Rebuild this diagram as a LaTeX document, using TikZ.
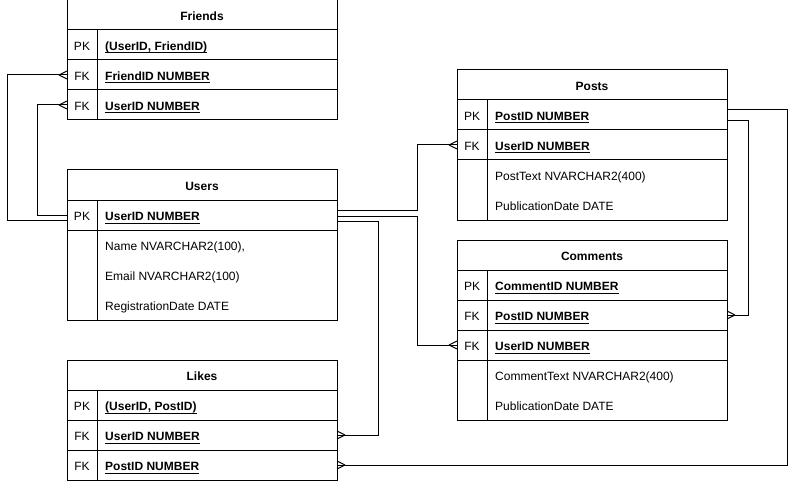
\documentclass[tikz,border=0pt]{standalone}
\usepackage{fontspec}
\setmainfont{Liberation Sans}
\usetikzlibrary{calc}
\newcommand\ulx[1]{\setbox0\hbox{#1}\rlap{\rule[-2.8pt]{\wd0}{0.8pt}}\box0}
\tikzset{
  cell/.style={draw, line width=1pt, minimum width=270pt, minimum height=30pt, anchor=north west, inner sep=0pt, outer sep=0pt},
  titletext/.style={font=\fontsize{12}{14}\selectfont\bfseries, inner sep=0pt, text height=12pt, text depth=1pt},
  keytext/.style={font=\fontsize{12}{14}\selectfont, inner sep=0pt, text height=12pt, text depth=1pt},
  fieldtext/.style={font=\fontsize{12}{14}\selectfont, anchor=west, inner sep=0pt, text height=12pt, text depth=1pt},
  conn/.style={draw, line width=1pt},
}
\newcommand\erTitle[4]{%
  \node[cell] (#1) at (#2,#3) {};
  \node[titletext] (#1-t) at (#1.center) {#4};}
\newcommand\erKey[5]{%
  \node[cell] (#1) at (#2,#3) {};
  \draw[line width=1pt] ($(#1.north west)+(30,0)$) -- ($(#1.south west)+(30,0)$);
  \node[keytext] (#1-k) at ($(#1.west)+(15,0)$) {#4};
  \node[fieldtext] (#1-t) at ($(#1.west)+(38,0)$) {\bfseries\ulx{#5}};}
\newcommand\crowL[1]{\draw[line width=1pt] ($(#1)+(-8,0)$) -- ($(#1)+(0,-4)$) ($(#1)+(-8,0)$) -- ($(#1)+(0,4)$);}
\newcommand\crowR[1]{\draw[line width=1pt] ($(#1)+(8,0)$) -- ($(#1)+(0,-4)$) ($(#1)+(8,0)$) -- ($(#1)+(0,4)$);}
\begin{document}
\begin{tikzpicture}[x=1pt,y=-1pt]
\useasboundingbox (0,0) rectangle (797,481);
\fill[white] (0,0) rectangle (797,481);

% Friends
\erTitle{fr}{67}{0}{Friends}
\erKey{fr-pk}{67}{30}{PK}{(UserID, FriendID)}
\erKey{fr-fk1}{67}{60}{FK}{FriendID NUMBER}
\erKey{fr-fk2}{67}{90}{FK}{UserID NUMBER}

% Users
\erTitle{us}{67}{170}{Users}
\erKey{us-pk}{67}{200}{PK}{UserID NUMBER}
\node[cell, minimum height=90pt] (us-f) at (67,230) {};
\draw[line width=1pt] ($(us-f.north west)+(30,0)$) -- ($(us-f.south west)+(30,0)$);
\node[fieldtext] (us-f1) at (105,245) {Name NVARCHAR2(100),};
\node[fieldtext] (us-f2) at (105,275) {Email NVARCHAR2(100)};
\node[fieldtext] (us-f3) at (105,305) {RegistrationDate DATE};

% Likes
\erTitle{li}{67}{360}{Likes}
\erKey{li-pk}{67}{390}{PK}{(UserID, PostID)}
\erKey{li-fk1}{67}{420}{FK}{UserID NUMBER}
\erKey{li-fk2}{67}{450}{FK}{PostID NUMBER}

% Posts
\erTitle{po}{457}{70}{Posts}
\erKey{po-pk}{457}{100}{PK}{PostID NUMBER}
\erKey{po-fk}{457}{130}{FK}{UserID NUMBER}
\node[cell, minimum height=60pt] (po-f) at (457,160) {};
\draw[line width=1pt] ($(po-f.north west)+(30,0)$) -- ($(po-f.south west)+(30,0)$);
\node[fieldtext] (po-f1) at (495,175) {PostText NVARCHAR2(400)};
\node[fieldtext] (po-f2) at (495,205) {PublicationDate DATE};

% Comments
\erTitle{co}{457}{240}{Comments}
\erKey{co-pk}{457}{270}{PK}{CommentID NUMBER}
\erKey{co-fk1}{457}{300}{FK}{PostID NUMBER}
\erKey{co-fk2}{457}{330}{FK}{UserID NUMBER}
\node[cell, minimum height=60pt] (co-f) at (457,360) {};
\draw[line width=1pt] ($(co-f.north west)+(30,0)$) -- ($(co-f.south west)+(30,0)$);
\node[fieldtext] (co-f1) at (495,375) {CommentText NVARCHAR2(400)};
\node[fieldtext] (co-f2) at (495,405) {PublicationDate DATE};

% Connectors
\draw[conn] ($(us-pk.west)+(0,5)$) -- ++(-60,0) |- (fr-fk1.west);
\crowL{fr-fk1.west}
\draw[conn] (us-pk.west) -- ++(-30,0) |- (fr-fk2.west);
\crowL{fr-fk2.west}
\draw[conn] ($(us-pk.east)+(0,-5)$) -- ++(80,0) |- (po-fk.west);
\crowL{po-fk.west}
\draw[conn] ($(us-pk.east)+(0,1)$) -- ++(80,0) |- (co-fk2.west);
\crowL{co-fk2.west}
\draw[conn] ($(us-pk.east)+(0,6)$) -- ++(41,0) |- (li-fk1.east);
\crowR{li-fk1.east}
\draw[conn] ($(po-pk.east)+(0,-5)$) -- ++(60,0) |- (li-fk2.east);
\crowR{li-fk2.east}
\draw[conn] ($(po-pk.east)+(0,6)$) -- ++(21,0) |- (co-fk1.east);
\crowR{co-fk1.east}
\end{tikzpicture}
\end{document}
